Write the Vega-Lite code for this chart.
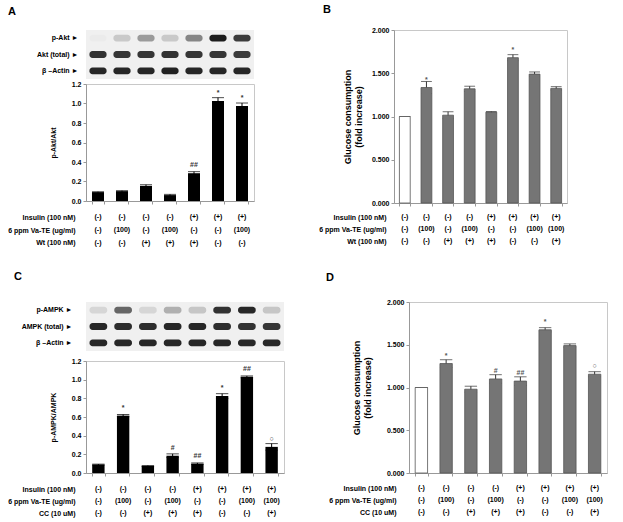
{
"$schema": "https://vega.github.io/schema/vega-lite/v6.json",
"padding": {"left": 7, "top": 3, "right": 5, "bottom": 3},
"background": "white",
"config": {
  "font": "Liberation Sans",
  "axis": {"labelFont": "Liberation Sans", "labelFontWeight": "bold", "labelFontSize": 7, "labelColor": "#000", "titleFont": "Liberation Sans", "titleFontWeight": "bold", "titleColor": "#000", "grid": false, "domainColor": "#999", "tickColor": "#999", "tickSize": 3},
  "view": {"stroke": "#c8c8c8"},
  "title": {"font": "Liberation Sans", "fontSize": 11, "fontWeight": "bold", "color": "#000", "anchor": "start", "frame": "group"}
},
"datasets": {
  "barsA": [
    {"lane": 1, "value": 0.09, "err": 0.005, "sig": ""},
    {"lane": 2, "value": 0.10, "err": 0.006, "sig": ""},
    {"lane": 3, "value": 0.155, "err": 0.012, "sig": ""},
    {"lane": 4, "value": 0.06, "err": 0.008, "sig": ""},
    {"lane": 5, "value": 0.285, "err": 0.016, "sig": "##"},
    {"lane": 6, "value": 1.025, "err": 0.035, "sig": "*"},
    {"lane": 7, "value": 0.975, "err": 0.03, "sig": "*"}
  ],
  "barsB": [
    {"lane": 1, "value": 1.0, "err": 0, "sig": "", "grp": "Control"},
    {"lane": 2, "value": 1.335, "err": 0.07, "sig": "*", "grp": "Treated"},
    {"lane": 3, "value": 1.015, "err": 0.04, "sig": "", "grp": "Treated"},
    {"lane": 4, "value": 1.32, "err": 0.03, "sig": "", "grp": "Treated"},
    {"lane": 5, "value": 1.05, "err": 0.008, "sig": "", "grp": "Treated"},
    {"lane": 6, "value": 1.68, "err": 0.035, "sig": "*", "grp": "Treated"},
    {"lane": 7, "value": 1.49, "err": 0.025, "sig": "", "grp": "Treated"},
    {"lane": 8, "value": 1.325, "err": 0.02, "sig": "", "grp": "Treated"}
  ],
  "barsC": [
    {"lane": 1, "value": 0.09, "err": 0.005, "sig": ""},
    {"lane": 2, "value": 0.615, "err": 0.012, "sig": "*"},
    {"lane": 3, "value": 0.075, "err": 0.005, "sig": ""},
    {"lane": 4, "value": 0.185, "err": 0.02, "sig": "#"},
    {"lane": 5, "value": 0.10, "err": 0.008, "sig": "##"},
    {"lane": 6, "value": 0.825, "err": 0.025, "sig": "*"},
    {"lane": 7, "value": 1.03, "err": 0.01, "sig": "##"},
    {"lane": 8, "value": 0.28, "err": 0.035, "sig": "○"}
  ],
  "barsD": [
    {"lane": 1, "value": 1.0, "err": 0, "sig": "", "grp": "Control"},
    {"lane": 2, "value": 1.28, "err": 0.045, "sig": "*", "grp": "Treated"},
    {"lane": 3, "value": 0.98, "err": 0.035, "sig": "", "grp": "Treated"},
    {"lane": 4, "value": 1.10, "err": 0.05, "sig": "#", "grp": "Treated"},
    {"lane": 5, "value": 1.075, "err": 0.05, "sig": "##", "grp": "Treated"},
    {"lane": 6, "value": 1.675, "err": 0.025, "sig": "*", "grp": "Treated"},
    {"lane": 7, "value": 1.49, "err": 0.02, "sig": "", "grp": "Treated"},
    {"lane": 8, "value": 1.155, "err": 0.03, "sig": "○", "grp": "Treated"}
  ],
  "blotA": [
    {"lane": 1, "protein": "p-Akt ►", "intensity": 0.02},
    {"lane": 2, "protein": "p-Akt ►", "intensity": 0.18},
    {"lane": 3, "protein": "p-Akt ►", "intensity": 0.4},
    {"lane": 4, "protein": "p-Akt ►", "intensity": 0.18},
    {"lane": 5, "protein": "p-Akt ►", "intensity": 0.5},
    {"lane": 6, "protein": "p-Akt ►", "intensity": 1.0},
    {"lane": 7, "protein": "p-Akt ►", "intensity": 0.85},
    {"lane": 1, "protein": "Akt (total) ►", "intensity": 0.9},
    {"lane": 2, "protein": "Akt (total) ►", "intensity": 0.88},
    {"lane": 3, "protein": "Akt (total) ►", "intensity": 0.88},
    {"lane": 4, "protein": "Akt (total) ►", "intensity": 0.9},
    {"lane": 5, "protein": "Akt (total) ►", "intensity": 0.88},
    {"lane": 6, "protein": "Akt (total) ►", "intensity": 0.88},
    {"lane": 7, "protein": "Akt (total) ►", "intensity": 0.85},
    {"lane": 1, "protein": "β –Actin ►", "intensity": 0.95},
    {"lane": 2, "protein": "β –Actin ►", "intensity": 0.95},
    {"lane": 3, "protein": "β –Actin ►", "intensity": 0.95},
    {"lane": 4, "protein": "β –Actin ►", "intensity": 0.97},
    {"lane": 5, "protein": "β –Actin ►", "intensity": 0.95},
    {"lane": 6, "protein": "β –Actin ►", "intensity": 0.95},
    {"lane": 7, "protein": "β –Actin ►", "intensity": 0.95}
  ],
  "blotC": [
    {"lane": 1, "protein": "p-AMPK ►", "intensity": 0.12},
    {"lane": 2, "protein": "p-AMPK ►", "intensity": 0.65},
    {"lane": 3, "protein": "p-AMPK ►", "intensity": 0.12},
    {"lane": 4, "protein": "p-AMPK ►", "intensity": 0.3},
    {"lane": 5, "protein": "p-AMPK ►", "intensity": 0.2},
    {"lane": 6, "protein": "p-AMPK ►", "intensity": 0.9},
    {"lane": 7, "protein": "p-AMPK ►", "intensity": 0.95},
    {"lane": 8, "protein": "p-AMPK ►", "intensity": 0.2},
    {"lane": 1, "protein": "AMPK (total) ►", "intensity": 0.95},
    {"lane": 2, "protein": "AMPK (total) ►", "intensity": 0.92},
    {"lane": 3, "protein": "AMPK (total) ►", "intensity": 0.92},
    {"lane": 4, "protein": "AMPK (total) ►", "intensity": 0.95},
    {"lane": 5, "protein": "AMPK (total) ►", "intensity": 0.95},
    {"lane": 6, "protein": "AMPK (total) ►", "intensity": 0.92},
    {"lane": 7, "protein": "AMPK (total) ►", "intensity": 0.9},
    {"lane": 8, "protein": "AMPK (total) ►", "intensity": 0.88},
    {"lane": 1, "protein": "β –Actin ►", "intensity": 0.95},
    {"lane": 2, "protein": "β –Actin ►", "intensity": 0.95},
    {"lane": 3, "protein": "β –Actin ►", "intensity": 0.95},
    {"lane": 4, "protein": "β –Actin ►", "intensity": 0.95},
    {"lane": 5, "protein": "β –Actin ►", "intensity": 0.95},
    {"lane": 6, "protein": "β –Actin ►", "intensity": 0.95},
    {"lane": 7, "protein": "β –Actin ►", "intensity": 0.95},
    {"lane": 8, "protein": "β –Actin ►", "intensity": 0.95}
  ],
  "tabA": [
    {"lane": 1, "cond": "Insulin (100 nM)", "val": "(-)"},
    {"lane": 2, "cond": "Insulin (100 nM)", "val": "(-)"},
    {"lane": 3, "cond": "Insulin (100 nM)", "val": "(-)"},
    {"lane": 4, "cond": "Insulin (100 nM)", "val": "(-)"},
    {"lane": 5, "cond": "Insulin (100 nM)", "val": "(+)"},
    {"lane": 6, "cond": "Insulin (100 nM)", "val": "(+)"},
    {"lane": 7, "cond": "Insulin (100 nM)", "val": "(+)"},
    {"lane": 1, "cond": "6 ppm Va-TE (ug/ml)", "val": "(-)"},
    {"lane": 2, "cond": "6 ppm Va-TE (ug/ml)", "val": "(100)"},
    {"lane": 3, "cond": "6 ppm Va-TE (ug/ml)", "val": "(-)"},
    {"lane": 4, "cond": "6 ppm Va-TE (ug/ml)", "val": "(100)"},
    {"lane": 5, "cond": "6 ppm Va-TE (ug/ml)", "val": "(-)"},
    {"lane": 6, "cond": "6 ppm Va-TE (ug/ml)", "val": "(-)"},
    {"lane": 7, "cond": "6 ppm Va-TE (ug/ml)", "val": "(100)"},
    {"lane": 1, "cond": "Wt (100 nM)", "val": "(-)"},
    {"lane": 2, "cond": "Wt (100 nM)", "val": "(-)"},
    {"lane": 3, "cond": "Wt (100 nM)", "val": "(+)"},
    {"lane": 4, "cond": "Wt (100 nM)", "val": "(+)"},
    {"lane": 5, "cond": "Wt (100 nM)", "val": "(+)"},
    {"lane": 6, "cond": "Wt (100 nM)", "val": "(-)"},
    {"lane": 7, "cond": "Wt (100 nM)", "val": "(-)"}
  ],
  "tabB": [
    {"lane": 1, "cond": "Insulin (100 nM)", "val": "(-)"},
    {"lane": 2, "cond": "Insulin (100 nM)", "val": "(-)"},
    {"lane": 3, "cond": "Insulin (100 nM)", "val": "(-)"},
    {"lane": 4, "cond": "Insulin (100 nM)", "val": "(-)"},
    {"lane": 5, "cond": "Insulin (100 nM)", "val": "(+)"},
    {"lane": 6, "cond": "Insulin (100 nM)", "val": "(+)"},
    {"lane": 7, "cond": "Insulin (100 nM)", "val": "(+)"},
    {"lane": 8, "cond": "Insulin (100 nM)", "val": "(+)"},
    {"lane": 1, "cond": "6 ppm Va-TE (ug/ml)", "val": "(-)"},
    {"lane": 2, "cond": "6 ppm Va-TE (ug/ml)", "val": "(100)"},
    {"lane": 3, "cond": "6 ppm Va-TE (ug/ml)", "val": "(-)"},
    {"lane": 4, "cond": "6 ppm Va-TE (ug/ml)", "val": "(100)"},
    {"lane": 5, "cond": "6 ppm Va-TE (ug/ml)", "val": "(-)"},
    {"lane": 6, "cond": "6 ppm Va-TE (ug/ml)", "val": "(-)"},
    {"lane": 7, "cond": "6 ppm Va-TE (ug/ml)", "val": "(100)"},
    {"lane": 8, "cond": "6 ppm Va-TE (ug/ml)", "val": "(100)"},
    {"lane": 1, "cond": "Wt (100 nM)", "val": "(-)"},
    {"lane": 2, "cond": "Wt (100 nM)", "val": "(-)"},
    {"lane": 3, "cond": "Wt (100 nM)", "val": "(+)"},
    {"lane": 4, "cond": "Wt (100 nM)", "val": "(+)"},
    {"lane": 5, "cond": "Wt (100 nM)", "val": "(+)"},
    {"lane": 6, "cond": "Wt (100 nM)", "val": "(-)"},
    {"lane": 7, "cond": "Wt (100 nM)", "val": "(-)"},
    {"lane": 8, "cond": "Wt (100 nM)", "val": "(+)"}
  ],
  "tabC": [
    {"lane": 1, "cond": "Insulin (100 nM)", "val": "(-)"},
    {"lane": 2, "cond": "Insulin (100 nM)", "val": "(-)"},
    {"lane": 3, "cond": "Insulin (100 nM)", "val": "(-)"},
    {"lane": 4, "cond": "Insulin (100 nM)", "val": "(-)"},
    {"lane": 5, "cond": "Insulin (100 nM)", "val": "(+)"},
    {"lane": 6, "cond": "Insulin (100 nM)", "val": "(+)"},
    {"lane": 7, "cond": "Insulin (100 nM)", "val": "(+)"},
    {"lane": 8, "cond": "Insulin (100 nM)", "val": "(+)"},
    {"lane": 1, "cond": "6 ppm Va-TE (ug/ml)", "val": "(-)"},
    {"lane": 2, "cond": "6 ppm Va-TE (ug/ml)", "val": "(100)"},
    {"lane": 3, "cond": "6 ppm Va-TE (ug/ml)", "val": "(-)"},
    {"lane": 4, "cond": "6 ppm Va-TE (ug/ml)", "val": "(100)"},
    {"lane": 5, "cond": "6 ppm Va-TE (ug/ml)", "val": "(-)"},
    {"lane": 6, "cond": "6 ppm Va-TE (ug/ml)", "val": "(-)"},
    {"lane": 7, "cond": "6 ppm Va-TE (ug/ml)", "val": "(100)"},
    {"lane": 8, "cond": "6 ppm Va-TE (ug/ml)", "val": "(100)"},
    {"lane": 1, "cond": "CC (10 uM)", "val": "(-)"},
    {"lane": 2, "cond": "CC (10 uM)", "val": "(-)"},
    {"lane": 3, "cond": "CC (10 uM)", "val": "(+)"},
    {"lane": 4, "cond": "CC (10 uM)", "val": "(+)"},
    {"lane": 5, "cond": "CC (10 uM)", "val": "(+)"},
    {"lane": 6, "cond": "CC (10 uM)", "val": "(-)"},
    {"lane": 7, "cond": "CC (10 uM)", "val": "(-)"},
    {"lane": 8, "cond": "CC (10 uM)", "val": "(+)"}
  ]
},
"spacing": 17,
"vconcat": [
  {
    "spacing": 63,
    "hconcat": [
      {
        "bounds": "flush",
        "spacing": 5,
        "vconcat": [
          {
            "title": {"text": "A", "dx": -78, "offset": 13},
            "width": 168, "height": 49,
            "data": {"name": "blotA"},
            "view": {"fill": "#f0f0f0", "stroke": null},
            "mark": {"type": "rect", "width": {"band": 0.85}, "height": {"band": 0.42}, "cornerRadius": 3, "color": "#111"},
            "encoding": {
              "x": {"field": "lane", "type": "ordinal", "scale": {"paddingInner": 0.16, "paddingOuter": 0.08}, "axis": null},
              "y": {"field": "protein", "type": "nominal", "sort": null, "scale": {"paddingInner": 0, "paddingOuter": 0}, "axis": {"title": null, "domain": false, "ticks": false, "labelPadding": 8, "labelFontSize": 7}},
              "opacity": {"field": "intensity", "type": "quantitative", "scale": {"domain": [0, 1], "range": [0, 0.95]}, "legend": null}
            }
          },
          {
            "width": 168, "height": 117,
            "data": {"name": "barsA"},
            "encoding": {
              "x": {"field": "lane", "type": "ordinal", "scale": {"paddingInner": 0.5, "paddingOuter": 0.25}, "axis": {"labels": false, "title": null, "tickBand": "extent", "tickSize": 3}},
              "y": {"field": "value", "type": "quantitative", "scale": {"domain": [0, 1.2]}, "axis": {"title": "p-Akt/Akt", "titleFontSize": 7, "titlePadding": 15, "values": [0, 0.2, 0.4, 0.6, 0.8, 1.0, 1.2], "format": ".1f"}}
            },
            "layer": [
              {"mark": {"type": "errorbar", "ticks": true, "color": "#000"}, "encoding": {"yError": {"field": "err"}}},
              {"mark": {"type": "bar", "color": "#000"}},
              {"mark": {"type": "text", "dy": -8, "fontSize": 7, "fontWeight": "bold", "color": "#333"}, "encoding": {"text": {"field": "sig"}}}
            ]
          },
          {
            "width": 168, "height": 48,
            "data": {"name": "tabA"},
            "view": {"stroke": null},
            "mark": {"type": "text", "fontSize": 7, "fontWeight": "bold", "color": "#000"},
            "encoding": {
              "x": {"field": "lane", "type": "ordinal", "scale": {"type": "point", "padding": 0.5}, "axis": null},
              "y": {"field": "cond", "type": "nominal", "sort": null, "scale": {"type": "point", "padding": 0.85}, "axis": {"title": null, "domain": false, "ticks": false, "labelPadding": 11}},
              "text": {"field": "val"}
            }
          }
        ]
      },
      {
        "bounds": "flush",
        "spacing": 8,
        "vconcat": [
          {
            "title": {"text": "B", "dx": -71, "offset": 11},
            "width": 173, "height": 173,
            "data": {"name": "barsB"},
            "encoding": {
              "x": {"field": "lane", "type": "ordinal", "scale": {"paddingInner": 0.5, "paddingOuter": 0.25}, "axis": {"labels": false, "title": null, "tickBand": "extent", "tickSize": 3}},
              "y": {"field": "value", "type": "quantitative", "scale": {"domain": [0, 2]}, "axis": {"title": ["Glucose consumption", "(fold increase)"], "titleFontSize": 9, "titlePadding": 8, "values": [0, 0.5, 1, 1.5, 2], "format": ".3f"}}
            },
            "layer": [
              {"mark": {"type": "errorbar", "ticks": true, "color": "#333"}, "encoding": {"yError": {"field": "err"}}},
              {"mark": {"type": "bar", "stroke": "#555", "strokeWidth": 0.8}, "encoding": {"color": {"field": "grp", "type": "nominal", "scale": {"domain": ["Control", "Treated"], "range": ["#ffffff", "#757575"]}, "legend": null}}},
              {"mark": {"type": "text", "dy": -8, "fontSize": 7, "fontWeight": "bold", "color": "#555"}, "encoding": {"text": {"field": "sig"}}}
            ]
          },
          {
            "width": 173, "height": 36,
            "data": {"name": "tabB"},
            "view": {"stroke": null},
            "mark": {"type": "text", "fontSize": 7, "fontWeight": "bold", "color": "#000"},
            "encoding": {
              "x": {"field": "lane", "type": "ordinal", "scale": {"type": "point", "padding": 0.5}, "axis": null},
              "y": {"field": "cond", "type": "nominal", "sort": null, "scale": {"type": "point", "padding": 0.5}, "axis": {"title": null, "domain": false, "ticks": false, "labelPadding": 8}},
              "text": {"field": "val"}
            }
          }
        ]
      }
    ]
  },
  {
    "spacing": 41,
    "hconcat": [
      {
        "bounds": "flush",
        "spacing": 10,
        "vconcat": [
          {
            "title": {"text": "C", "dx": -72, "offset": 20},
            "width": 198, "height": 49,
            "data": {"name": "blotC"},
            "view": {"fill": "#f0f0f0", "stroke": null},
            "mark": {"type": "rect", "width": {"band": 0.85}, "height": {"band": 0.42}, "cornerRadius": 3, "color": "#111"},
            "encoding": {
              "x": {"field": "lane", "type": "ordinal", "scale": {"paddingInner": 0.16, "paddingOuter": 0.08}, "axis": null},
              "y": {"field": "protein", "type": "nominal", "sort": null, "scale": {"paddingInner": 0, "paddingOuter": 0}, "axis": {"title": null, "domain": false, "ticks": false, "labelPadding": 14, "labelFontSize": 7}},
              "opacity": {"field": "intensity", "type": "quantitative", "scale": {"domain": [0, 1], "range": [0, 0.95]}, "legend": null}
            }
          },
          {
            "width": 198, "height": 112,
            "data": {"name": "barsC"},
            "encoding": {
              "x": {"field": "lane", "type": "ordinal", "scale": {"paddingInner": 0.5, "paddingOuter": 0.25}, "axis": {"labels": false, "title": null, "tickBand": "extent", "tickSize": 3}},
              "y": {"field": "value", "type": "quantitative", "scale": {"domain": [0, 1.2]}, "axis": {"title": "p-AMPK/AMPK", "titleFontSize": 7, "titlePadding": 15, "values": [0, 0.2, 0.4, 0.6, 0.8, 1.0, 1.2], "format": ".1f"}}
            },
            "layer": [
              {"mark": {"type": "errorbar", "ticks": true, "color": "#000"}, "encoding": {"yError": {"field": "err"}}},
              {"mark": {"type": "bar", "color": "#000"}},
              {"mark": {"type": "text", "dy": -8, "fontSize": 7, "fontWeight": "bold", "color": "#333"}, "encoding": {"text": {"field": "sig"}}}
            ]
          },
          {
            "width": 198, "height": 36,
            "data": {"name": "tabC"},
            "view": {"stroke": null},
            "mark": {"type": "text", "fontSize": 7, "fontWeight": "bold", "color": "#000"},
            "encoding": {
              "x": {"field": "lane", "type": "ordinal", "scale": {"type": "point", "padding": 0.5}, "axis": null},
              "y": {"field": "cond", "type": "nominal", "sort": null, "scale": {"type": "point", "padding": 0.5}, "axis": {"title": null, "domain": false, "ticks": false, "labelPadding": 11}},
              "text": {"field": "val"}
            }
          }
        ]
      },
      {
        "title": {"text": "D", "dx": -83, "offset": 15},
        "bounds": "flush",
        "spacing": 9,
        "vconcat": [
          {
            "width": 198, "height": 171,
            "data": {"name": "barsD"},
            "encoding": {
              "x": {"field": "lane", "type": "ordinal", "scale": {"paddingInner": 0.5, "paddingOuter": 0.25}, "axis": {"labels": false, "title": null, "tickBand": "extent", "tickSize": 3}},
              "y": {"field": "value", "type": "quantitative", "scale": {"domain": [0, 2]}, "axis": {"title": ["Glucose consumption", "(fold increase)"], "titleFontSize": 9, "titlePadding": 14, "values": [0, 0.5, 1, 1.5, 2], "format": ".3f"}}
            },
            "layer": [
              {"mark": {"type": "errorbar", "ticks": true, "color": "#333"}, "encoding": {"yError": {"field": "err"}}},
              {"mark": {"type": "bar", "stroke": "#555", "strokeWidth": 0.8}, "encoding": {"color": {"field": "grp", "type": "nominal", "scale": {"domain": ["Control", "Treated"], "range": ["#ffffff", "#757575"]}, "legend": null}}},
              {"mark": {"type": "text", "dy": -8, "fontSize": 7, "fontWeight": "bold", "color": "#555"}, "encoding": {"text": {"field": "sig"}}}
            ]
          },
          {
            "width": 198, "height": 36,
            "data": {"name": "tabC"},
            "view": {"stroke": null},
            "mark": {"type": "text", "fontSize": 7, "fontWeight": "bold", "color": "#000"},
            "encoding": {
              "x": {"field": "lane", "type": "ordinal", "scale": {"type": "point", "padding": 0.5}, "axis": null},
              "y": {"field": "cond", "type": "nominal", "sort": null, "scale": {"type": "point", "padding": 0.5}, "axis": {"title": null, "domain": false, "ticks": false, "labelPadding": 13}},
              "text": {"field": "val"}
            }
          }
        ]
      }
    ]
  }
]
}
